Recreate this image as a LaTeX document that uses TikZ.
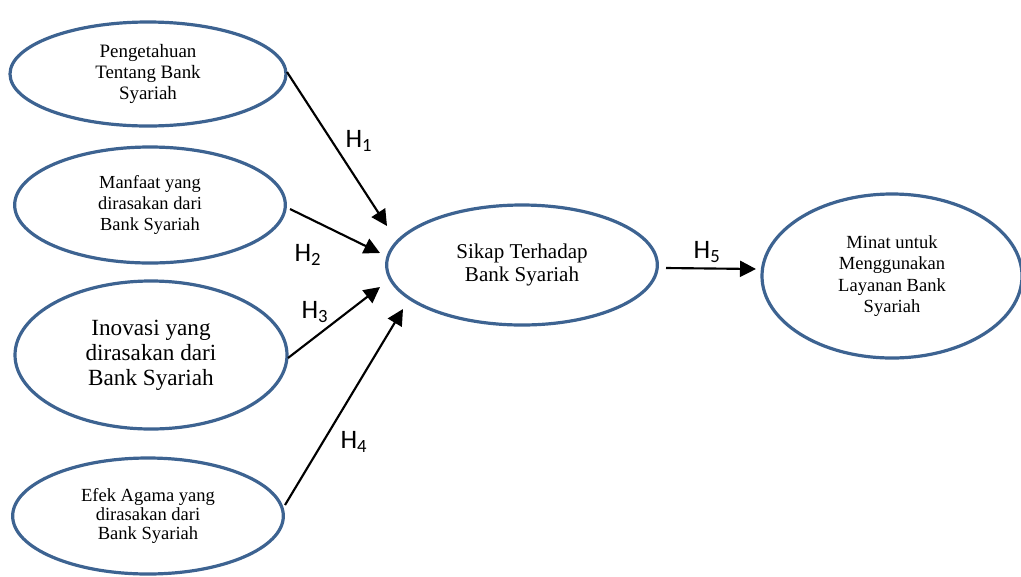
\documentclass[tikz,border=0pt]{standalone}
\usepackage{fontspec}
\setmainfont{Liberation Serif}
\newfontfamily\hfont{Carlito}
\usetikzlibrary{shapes.geometric,arrows.meta}
\definecolor{ellblue}{RGB}{61,99,145}
\begin{document}
\begin{tikzpicture}[x=0.75pt,y=-0.75pt,
  oval/.style={ellipse,draw=ellblue,line width=2.4pt,inner sep=0pt,align=center},
  arr/.style={line width=1.6pt,-{Triangle[length=12pt,width=12pt]}},
  hlab/.style={font=\hfont\fontsize{20}{22}\selectfont,inner sep=0pt}]
\useasboundingbox (0,0) rectangle (1021,576);
\node[oval,minimum width=207pt,minimum height=78pt,font=\fontsize{14.2}{15.75}\selectfont] (pengetahuan) at (148,74) {Pengetahuan\\Tentang Bank\\Syariah};
\node[oval,minimum width=203pt,minimum height=87pt,font=\fontsize{13.8}{15.5}\selectfont] (manfaat) at (150,205) {Manfaat yang\\dirasakan dari\\Bank Syariah};
\node[oval,minimum width=204pt,minimum height=111pt,font=\fontsize{17.4}{18.75}\selectfont] (inovasi) at (151,355) {Inovasi yang\\dirasakan dari\\Bank Syariah};
\node[oval,minimum width=203pt,minimum height=87pt,font=\fontsize{13.9}{14.5}\selectfont] (efek) at (148,516) {Efek Agama yang\\dirasakan dari\\Bank Syariah};
\node[oval,minimum width=203pt,minimum height=90pt,font=\fontsize{15.8}{17.25}\selectfont] (sikap) at (522,265) {Sikap Terhadap\\Bank Syariah};
\node[oval,minimum width=195pt,minimum height=123pt,font=\fontsize{13.9}{16}\selectfont] (minat) at (892,276) {Minat untuk\\Menggunakan\\Layanan Bank\\Syariah};
\coordinate (c1s) at (287,72);  \coordinate (c1e) at (387,226);
\coordinate (c2s) at (290,209); \coordinate (c2e) at (380,253);
\coordinate (c3s) at (288,358); \coordinate (c3e) at (380,287);
\coordinate (c4s) at (285,505); \coordinate (c4e) at (403,309);
\coordinate (c5s) at (666,268); \coordinate (c5e) at (756,269);
\draw[arr] (c1s) -- (c1e);
\draw[arr] (c2s) -- (c2e);
\draw[arr] (c3s) -- (c3e);
\draw[arr] (c4s) -- (c4e);
\draw[arr] (c5s) -- (c5e);
\node[hlab] (h1) at (359,141) {H\textsubscript{1}};
\node[hlab] (h2) at (308,255) {H\textsubscript{2}};
\node[hlab] (h3) at (315,312) {H\textsubscript{3}};
\node[hlab] (h4) at (354,442) {H\textsubscript{4}};
\node[hlab] (h5) at (707,252) {H\textsubscript{5}};
\end{tikzpicture}
\end{document}
